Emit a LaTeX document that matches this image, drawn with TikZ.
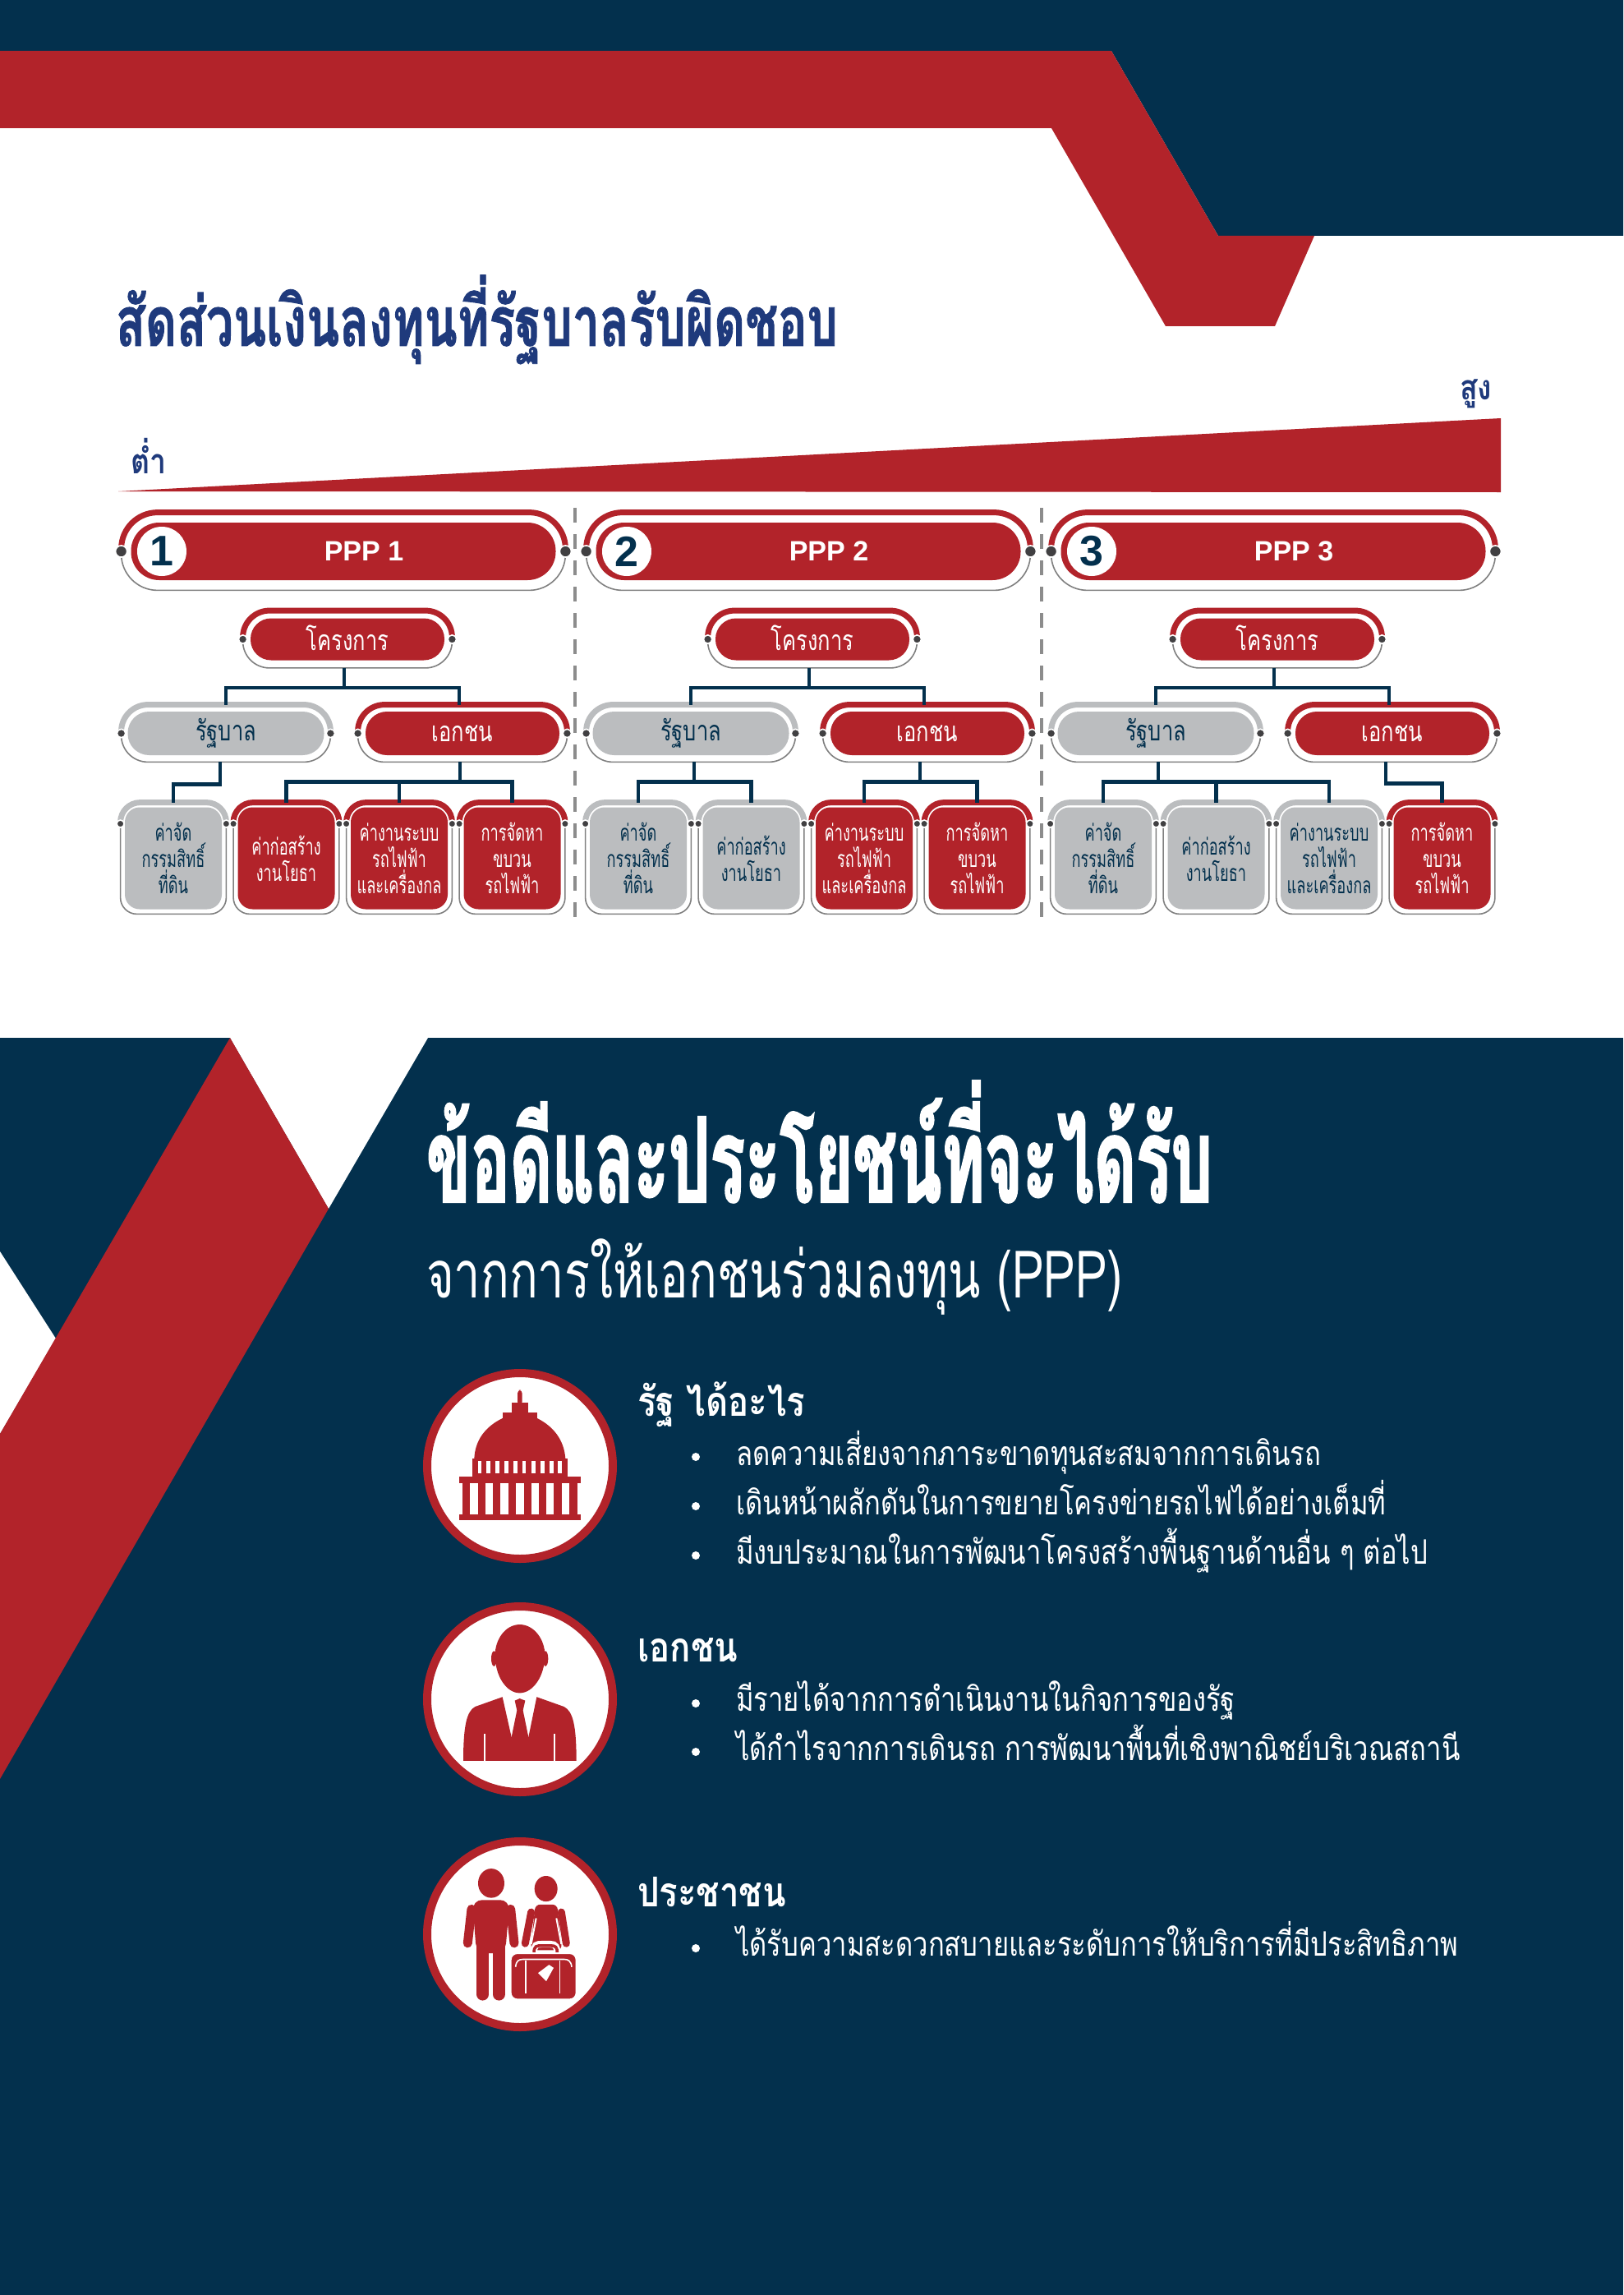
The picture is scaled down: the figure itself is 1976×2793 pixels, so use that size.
\documentclass[tikz,border=0pt]{standalone}
\usepackage{fontspec}
\usepackage{tikz}
\usetikzlibrary{calc}
\newfontfamily\thaititle[Script=Thai,FakeStretch=0.70,FakeBold=1]{Loma}
\newfontfamily\thaiadv[Script=Thai,FakeStretch=0.55,FakeBold=1.5]{Loma}
\newfontfamily\thaisub[Script=Thai,FakeStretch=0.72]{Loma}
\newfontfamily\thaibody[Script=Thai,FakeStretch=0.80]{Loma}
\newfontfamily\thaihead[Script=Thai,FakeStretch=0.84]{Loma}
\newfontfamily\thaicard[Script=Thai,FakeStretch=0.65]{Loma}
\newfontfamily\thaipill[Script=Thai,FakeStretch=0.75]{Loma}
\newfontfamily\thaimark[Script=Thai,FakeStretch=0.85]{Loma}
\newfontfamily\latinfont{Liberation Sans}
\definecolor{navybg}{HTML}{03304D}
\definecolor{redband}{HTML}{B2232A}
\definecolor{graybox}{HTML}{BBBDBF}
\definecolor{titleblue}{HTML}{1F3A7C}
\definecolor{dotgray}{HTML}{414042}
\newcommand{\px}{0.5pt}
\tikzset{
  frame/.style={inner sep=0pt, minimum width=#1*\px},
  dotend/.style={circle, fill=dotgray, draw=white, line width=0.8pt, inner sep=0pt, minimum size=4.5pt},
  treeline/.style={draw=navybg, line width=2.2pt},
  fillred/.style={fill=redband, text=white},
  fillgray/.style={fill=graybox, text=navybg},
  hasred/.style={draw=redband},
  hasgray/.style={draw=graybox},
  smalltext/.style={font=\thaipill\fontsize{17}{18}\selectfont, align=center},
  headtext/.style={anchor=base west, text=white, font=\thaihead\bfseries\fontsize{25}{27}\selectfont},
  bodytext/.style={anchor=base west, text=white, font=\thaibody\fontsize{20.5}{22}\selectfont},
  bulletdot/.style={circle, fill=white, inner sep=0pt, minimum size=5pt},
  marktext/.style={anchor=base west, text=titleblue, font=\thaimark\bfseries\fontsize{21}{23}\selectfont},
}
% pill: name, x, y, frame w, frame h, box w, box h, colour, text
\newcommand{\pillnode}[9]{
  \node[frame=#4, minimum height=#5*\px] (#1) at (#2,#3) {};
  \draw[has#8, line width=3.5pt, rounded corners=#5*\px*0.47] (#1.west) |- (#1.north) -| (#1.east);
  \draw[draw=gray, line width=0.8pt, rounded corners=#5*\px*0.47] (#1.west) |- (#1.south) -| (#1.east);
  \node[dotend, minimum size=#5*\px*0.15] (#1l) at (#1.west) {};
  \node[dotend, minimum size=#5*\px*0.15] (#1r) at (#1.east) {};
  \node[fill#8, rounded corners=#7*\px*0.49, inner sep=0pt, minimum width=#6*\px, minimum height=#7*\px, smalltext] (#1t) at (#1.center) {#9};
}
% card: name, x, colour, text
\newcommand{\cardnode}[4]{
  \node[frame=128, minimum height=135*\px] (#1) at (#2,1044.5) {};
  \draw[has#3, line width=3.5pt, rounded corners=12pt] ([yshift=21pt]#1.west) |- (#1.north) -| ([yshift=21pt]#1.east);
  \draw[draw=gray, line width=0.8pt, rounded corners=10pt] ([yshift=21pt]#1.west) |- (#1.south) -| ([yshift=21pt]#1.east);
  \node[dotend, minimum size=4.5pt] (#1l) at ([yshift=21pt]#1.west) {};
  \node[dotend, minimum size=4.5pt] (#1r) at ([yshift=21pt]#1.east) {};
  \node[fill#3, rounded corners=9pt, inner sep=0pt, minimum width=118*\px, minimum height=124*\px, smalltext, font=\thaicard\fontsize{14}{16}\selectfont] (#1t) at (#1.center) {#4};
}
\begin{document}
\begin{tikzpicture}[x=0.5pt, y=-0.5pt]
  \useasboundingbox (0,0) rectangle (1976,2793);
  \fill[white] (0,0) rectangle (1976,2793);
  % top bands
  \fill[navybg] (0,0) -- (1976,0) -- (1976,287) -- (1483,287) -- (1353,62) -- (0,62) -- cycle;
  \fill[redband] (0,62) -- (1353,62) -- (1483,287) -- (1600,287) -- (1552,397) -- (1419,397) -- (1280,156) -- (0,156) -- cycle;
  \node[anchor=base west, text=titleblue, font=\thaititle\bfseries\fontsize{42}{44}\selectfont] (title) at (134,421) {สัดส่วนเงินลงทุนที่รัฐบาลรับผิดชอบ};
  % wedge
  \fill[redband] (144,598) -- (1827,509) -- (1827,599) -- cycle;
  \node[marktext] (high) at (1770,486) {สูง};
  \node[marktext] (low) at (152,576) {ต่ำ};
  \draw[draw=gray!90, line width=2pt, dash pattern=on 9pt off 7pt] (700,618) -- (700,1125);
  \draw[draw=gray!90, line width=2pt, dash pattern=on 9pt off 7pt] (1268,618) -- (1268,1125);
  % three panels
  \foreach \pn/\dx/\ca/\cb/\cc/\cd in {1/0/gray/red/red/red, 2/566/gray/gray/red/red, 3/1132/gray/gray/gray/red}{
    \begin{scope}[shift={(\dx,0)}]
      \pillnode{ppp\pn}{418}{671}{540}{94}{517}{70}{red}{}
      \node[text=white, font=\latinfont\bfseries\fontsize{17}{19}\selectfont] (ppp\pn t) at (443,671) {PPP \pn};
      \node[circle, fill=white, inner sep=0pt, minimum size=30pt, text=navybg, font=\latinfont\bfseries\fontsize{26}{28}\selectfont] (num\pn) at (197,671) {\pn};
      \pillnode{proj\pn}{423}{778}{254}{69}{236}{51}{red}{\raisebox{1.5pt}{โครงการ}}
      \pillnode{gov\pn}{275}{892.5}{254}{69}{239}{53}{gray}{รัฐบาล}
      \pillnode{priv\pn}{563}{892.5}{254}{69}{236}{53}{red}{เอกชน}
      \cardnode{land\pn}{211}{\ca}{ค่าจัด\\กรรมสิทธิ์\\ที่ดิน}
      \cardnode{civil\pn}{348.5}{\cb}{ค่าก่อสร้าง\\งานโยธา}
      \cardnode{sys\pn}{486}{\cc}{ค่างานระบบ\\รถไฟฟ้า\\และเครื่องกล}
      \cardnode{fleet\pn}{623.5}{\cd}{การจัดหา\\ขบวน\\รถไฟฟ้า}
      \draw[treeline] ([xshift=-2pt]proj\pn.south) -- +(0,24) -| (gov\pn.north);
      \draw[treeline] ([xshift=-2pt]proj\pn.south) -- +(0,24) -| ([xshift=-2pt]priv\pn.north);
    \end{scope}
  }
  % panel one
  \draw[treeline] ([xshift=-3.5pt]gov1.south) -- +(0,27) -| (land1.north);
  \draw[treeline] ([xshift=-1.5pt]priv1.south) -- +(0,24) -| (civil1.north);
  \draw[treeline] ([xshift=-1.5pt]priv1.south) -- +(0,24) -| (sys1.north);
  \draw[treeline] ([xshift=-1.5pt]priv1.south) -- +(0,24) -| (fleet1.north);
  % panel two
  \draw[treeline] ([xshift=2pt]gov2.south) -- +(0,24) -| (land2.north);
  \draw[treeline] ([xshift=2pt]gov2.south) -- +(0,24) -| (civil2.north);
  \draw[treeline] ([xshift=-4.5pt]priv2.south) -- +(0,24) -| (sys2.north);
  \draw[treeline] ([xshift=-4.5pt]priv2.south) -- +(0,24) -| (fleet2.north);
  % panel three
  \draw[treeline] ([xshift=1.5pt]gov3.south) -- +(0,24) -| (land3.north);
  \draw[treeline] ([xshift=1.5pt]gov3.south) -- +(0,24) -| (civil3.north);
  \draw[treeline] ([xshift=1.5pt]gov3.south) -- +(0,24) -| (sys3.north);
  \draw[treeline] ([xshift=-4pt]priv3.south) -- +(0,26) -| (fleet3.north);
  % lower part
  \fill[navybg] (0,1263) rectangle (1976,2793);
  \fill[white] (280,1263) -- (521,1263) -- (400,1471) -- cycle;
  \fill[white] (0,1523) -- (68,1629) -- (0,1745) -- cycle;
  \fill[redband] (280,1263) -- (400,1471) -- (0,2165) -- (0,1745) -- cycle;
  \node[anchor=base west, text=white, font=\thaiadv\bfseries\fontsize{72}{76}\selectfont] (adv) at (512,1463) {ข้อดีและประโยชน์ที่จะได้รับ};
  \node[anchor=base west, text=white, font=\thaisub\fontsize{40}{42}\selectfont] (from) at (512,1579) {จากการให้เอกชนร่วมลงทุน (PPP)};
  % icon discs
  \foreach \cy/\nm in {1784/state, 2068/firm, 2354/people}{
    \node[circle, fill=white, draw=redband, line width=5pt, inner sep=0pt, minimum size=113pt] (\nm) at (633,\cy) {};
  }
  % capitol
  \begin{scope}[shift={(500,1650)}, scale=1/3]
    \fill[redband, rounded corners=2pt] (390,125) rectangle (407,180);
    \fill[redband] (368,170) rectangle (428,215);
    \fill[redband] (335,208) rectangle (462,240);
    \fill[redband] (335,228) .. controls (270,260) and (235,310) .. (232,375) -- (565,375) .. controls (560,310) and (525,260) .. (462,228) -- cycle;
    \fill[redband] (226,375) rectangle (572,442);
    \foreach \wx in {245,277,309,342,376,407,441,474,508,538}
      \fill[white] (\wx,385) rectangle ++(14,45);
    \fill[redband] (178,440) rectangle (620,465);
    \fill[redband] (190,465) rectangle (608,580);
    \foreach \wx in {217,273,328,385,440,495,552}
      \fill[white] (\wx,465) rectangle ++(28,113);
    \fill[redband] (178,578) rectangle (620,600);
  \end{scope}
  % businessman
  \begin{scope}[shift={(500,1940)}, xscale=1/3, yscale=1/2.7]
    \fill[redband] (398,100) .. controls (345,100) and (308,150) .. (308,200) .. controls (308,270) and (350,325) .. (398,325) .. controls (446,325) and (490,270) .. (490,200) .. controls (490,150) and (451,100) .. (398,100) -- cycle;
    \fill[redband] (304,212) ellipse [x radius=10, y radius=25];
    \fill[redband] (492,212) ellipse [x radius=10, y radius=25];
    \fill[redband] (335,338) -- (235,370) .. controls (205,385) and (192,430) .. (192,548) -- (605,548) .. controls (605,430) and (592,385) .. (560,370) -- (460,338) -- (430,470) -- (368,470) -- cycle;
    \fill[redband] (380,350) -- (398,343) -- (418,350) -- (410,382) -- (430,470) -- (368,470) -- (388,382) -- cycle;
    \draw[white, line width=0.8pt] (270,460) -- (270,552) (525,460) -- (525,552);
  \end{scope}
  % travellers
  \begin{scope}[shift={(500,1940)}, xscale=1/3, yscale=1/2.7]
    \fill[redband] (294,950) ellipse [x radius=48, y radius=48];
    \fill[redband, rounded corners=6pt] (225,1005) -- (362,1005) -- (345,1180) -- (240,1180) -- cycle;
    \draw[redband, line width=5.5pt, line cap=round] (222,1035) -- (208,1147) (365,1035) -- (378,1147);
    \draw[redband, line width=7.5pt, line cap=round] (263,1150) -- (263,1315) (322,1150) -- (322,1315);
    \fill[redband] (494,968) ellipse [x radius=42, y radius=42];
    \fill[redband, rounded corners=3pt] (455,1020) -- (535,1020) -- (552,1170) -- (438,1170) -- cycle;
    \draw[redband, line width=4.5pt, line cap=round] (440,1045) -- (418,1148) (550,1045) -- (568,1148);
    \draw[white, line width=1pt] (458,1065) -- (440,1150) (532,1065) -- (550,1150);
    \draw[white, line width=4pt] (450,1180) .. controls (450,1150) and (460,1150) .. (480,1150) -- (510,1150) .. controls (530,1150) and (535,1160) .. (535,1180);
    \draw[redband, line width=1.8pt] (450,1180) .. controls (450,1155) and (460,1155) .. (480,1155) -- (510,1155) .. controls (530,1155) and (535,1160) .. (535,1180);
    \fill[redband, draw=white, line width=1pt, rounded corners=4pt] (365,1180) rectangle (605,1332);
    \draw[white, line width=0.8pt] (420,1205) -- (420,1312) (545,1205) -- (545,1312);
    \draw[white, line width=0.8pt] (383,1225) .. controls (385,1205) and (395,1200) .. (410,1200) -- (560,1200) .. controls (575,1200) and (585,1205) .. (588,1225);
    \fill[white] (465,1245) -- (505,1218) -- (522,1228) -- (495,1272) -- cycle;
  \end{scope}
  % state block
  \node[headtext] (statehd) at (769,1723) {รัฐ ได้อะไร};
  \node[bulletdot] (s1) at (847,1773) {};
  \node[bulletdot] (s2) at (847,1833) {};
  \node[bulletdot] (s3) at (847,1893) {};
  \node[bodytext] (stxt1) at (889,1783) {ลดความเสี่ยงจากภาระขาดทุนสะสมจากการเดินรถ};
  \node[bodytext] (stxt2) at (889,1843) {เดินหน้าผลักดันในการขยายโครงข่ายรถไฟได้อย่างเต็มที่};
  \node[bodytext] (stxt3) at (889,1903) {มีงบประมาณในการพัฒนาโครงสร้างพื้นฐานด้านอื่น ๆ ต่อไป};
  % private block
  \node[headtext] (firmhd) at (769,2022) {เอกชน};
  \node[bulletdot] (f1) at (847,2073) {};
  \node[bulletdot] (f2) at (847,2132) {};
  \node[bodytext] (ftxt1) at (889,2082) {มีรายได้จากการดำเนินงานในกิจการของรัฐ};
  \node[bodytext] (ftxt2) at (889,2142) {ได้กำไรจากการเดินรถ การพัฒนาพื้นที่เชิงพาณิชย์บริเวณสถานี};
  % people block
  \node[headtext] (peoplehd) at (769,2320) {ประชาชน};
  \node[bulletdot] (p1) at (847,2371) {};
  \node[bodytext] (ptxt1) at (889,2380) {ได้รับความสะดวกสบายและระดับการให้บริการที่มีประสิทธิภาพ};
\end{tikzpicture}
\end{document}
